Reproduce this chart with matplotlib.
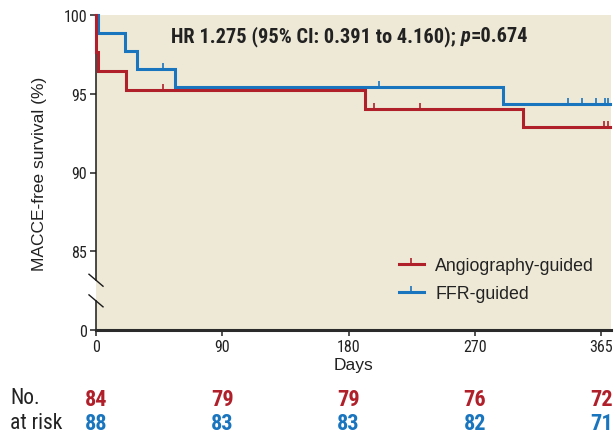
import matplotlib
matplotlib.use("Agg")
import matplotlib.pyplot as plt
from matplotlib.path import Path
from matplotlib.lines import Line2D
from matplotlib import font_manager as fm
import numpy as np

# ---------------- data ----------------
angio_time = [0, 0, 1.7, 21.5, 192, 304, 366]
angio_surv = [100, 97.62, 96.43, 95.24, 94.05, 92.86, 92.86]
angio_censor = [48, 198, 231, 362, 365]

ffr_time = [0, 1.2, 20.8, 29, 56, 290, 366]
ffr_surv = [100, 98.86, 97.73, 96.59, 95.45, 94.32, 94.32]
ffr_censor = [47.6, 202, 336.5, 346.5, 356, 363, 365]

xtick_pos = [0, 90, 180, 270, 360]
xtick_labels = ["0", "90", "180", "270", "365"]
ytick_pos = [80, 85, 90, 95, 100]
ytick_labels = ["0", "85", "90", "95", "100"]

risk_angio = [84, 79, 79, 76, 72]
risk_ffr = [88, 83, 83, 82, 71]

labels = ["Angiography-guided", "FFR-guided"]

RED = "#b0202b"
BLUE = "#1a75bf"
BG = "#ede9d6"
TXT = "#222222"

# ---------------- fonts ----------------
names = {f.name for f in fm.fontManager.ttflist}
NARROW = None
STRETCH = "normal"
for cand in ["Roboto Condensed", "Liberation Sans Narrow", "Open Sans Condensed",
             "Arial Narrow", "Noto Sans Condensed"]:
    if cand in names:
        NARROW = cand
        break
if NARROW is None:
    NARROW = "DejaVu Sans"
    STRETCH = "condensed"
REG = "Liberation Sans"

W, H = 614, 435
fig = plt.figure(figsize=(W / 100, H / 100), dpi=100)
L, R, T, B = 96, 611, 16, 331
XMAX = 367
ax = fig.add_axes([L / W, 1 - B / H, (R - L) / W, (B - T) / H])
ax.set_facecolor(BG)
ax.set_xlim(0, XMAX)
ax.set_ylim(80, 100)

# censor tick marker (upward only)
tick_marker = Path([(0, 0), (0, 1)], [Path.MOVETO, Path.LINETO])


def step_val(times, surv, t):
    idx = np.searchsorted(times, t, side="right") - 1
    return surv[max(idx, 0)]


for times, surv, cens, col, z in [
    (ffr_time, ffr_surv, ffr_censor, BLUE, 3),
    (angio_time, angio_surv, angio_censor, RED, 4),
]:
    ax.plot(times, surv, drawstyle="steps-post", color=col, lw=2.2,
            clip_on=False, zorder=z, solid_joinstyle="miter")
    cy = [step_val(np.array(times), surv, c) for c in cens]
    ax.plot(cens, cy, ls="none", marker=tick_marker, ms=9, mew=1.2,
            color=col, clip_on=False, zorder=z)

# spines
for s in ["top", "right", "left"]:
    ax.spines[s].set_visible(False)
ax.spines["bottom"].set_linewidth(2.2)
ax.spines["bottom"].set_color("#2b2b2b")
ax.spines["bottom"].set_zorder(5)

# left axis drawn with a break
b1, b2 = 83.16, 81.85
ax.plot([0, 0], [100, b1], color="#1a1a1a", lw=1.1, clip_on=False, zorder=2)
ax.plot([0, 0], [b2, 80], color="#1a1a1a", lw=1.1, clip_on=False, zorder=2)
dx, dy = 5.0, 0.38
for b in (b1, b2):
    ax.plot([-dx, dx], [b + dy, b - dy], color="#1a1a1a", lw=1.0,
            clip_on=False, zorder=6)

tick_font = dict(fontfamily=NARROW, fontstretch=STRETCH, fontsize=11.5, color=TXT)
ax.set_xticks(xtick_pos)
ax.set_xticklabels(xtick_labels, **tick_font)
ax.set_yticks(ytick_pos)
ax.set_yticklabels(ytick_labels, **tick_font)
ax.tick_params(axis="both", direction="out", length=4.5, width=1.1, color=TXT)
ax.tick_params(axis="x", pad=2)
ax.tick_params(axis="y", pad=2)

ax.set_xlabel("Days", fontfamily=REG, fontsize=12.5, color=TXT, labelpad=2)
ax.set_ylabel("MACCE-free survival (%)", fontfamily=REG, fontsize=12.5, color=TXT)
ax.yaxis.set_label_coords((47 - L) / (R - L), 0.5)

# title
title_font = dict(fontfamily=NARROW, fontstretch=STRETCH, fontweight="bold",
                  fontsize=14.7, color=TXT, va="center")
t1 = fig.text(171 / W, 1 - 37 / H, "HR 1.275 (95% CI: 0.391 to 4.160); ",
              ha="left", **title_font)
fig.canvas.draw()
bb = t1.get_window_extent()
t2 = fig.text(bb.x1 / W, 1 - 37 / H, "p", ha="left", style="italic", **title_font)
bb2 = t2.get_window_extent()
fig.text(bb2.x1 / W, 1 - 37 / H, "=0.674", ha="left", **title_font)

# legend
handles = [
    Line2D([0], [0], color=RED, lw=2.2, marker=tick_marker, ms=9, mew=1.2),
    Line2D([0], [0], color=BLUE, lw=2.2, marker=tick_marker, ms=9, mew=1.2),
]
leg = ax.legend(handles, labels, loc="upper left",
                bbox_to_anchor=(399 / W, 1 - 258 / H), bbox_transform=fig.transFigure,
                frameon=False, borderpad=0, borderaxespad=0, handlelength=1.4,
                handletextpad=0.65, labelspacing=0.62, numpoints=1,
                prop={"family": REG, "size": 12.8})
for t in leg.get_texts():
    t.set_color(TXT)

# at-risk table
row_font = dict(fontfamily=NARROW, fontstretch=STRETCH, fontsize=15.5, color=TXT,
                ha="left", va="center")
fig.text(10 / W, 1 - 399 / H, "No.", **row_font)
fig.text(10 / W, 1 - 424 / H, "at risk", **row_font)
num_font = dict(fontfamily=NARROW, fontstretch=STRETCH, fontweight="bold",
                fontsize=16, ha="center", va="center")
for xp, a, f in zip(xtick_pos, risk_angio, risk_ffr):
    xf = (L + (R - L) * xp / XMAX) / W
    fig.text(xf, 1 - 400 / H, str(a), color=RED, **num_font)
    fig.text(xf, 1 - 424 / H, str(f), color=BLUE, **num_font)

fig.savefig("out.png", dpi=100)
